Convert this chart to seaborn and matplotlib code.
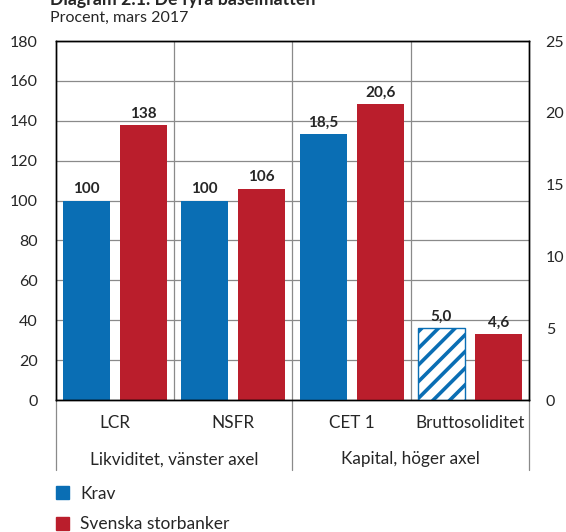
import seaborn as sns
import pandas as pd
import matplotlib.pyplot as plt
import matplotlib.patches as mpatches
import matplotlib.transforms as mtransforms

categories = ["LCR", "NSFR", "CET 1", "Bruttosoliditet"]
series = ["Krav", "Svenska storbanker"]
krav = [100, 100, 18.5, 5.0]
storbanker = [138, 106, 20.6, 4.6]
axis_side = ["vänster", "vänster", "höger", "höger"]
groups = ["Likviditet, vänster axel", "Kapital, höger axel"]

BLUE = '#0A6EB4'
RED = '#BA1E2C'

rows = []
for cat, k, s, side in zip(categories, krav, storbanker, axis_side):
    rows.append({'Kategori': cat, 'Serie': series[0], 'Procent': k, 'Axel': side})
    rows.append({'Kategori': cat, 'Serie': series[1], 'Procent': s, 'Axel': side})
df = pd.DataFrame(rows)
liq = df[df['Axel'] == 'vänster']
cap = df[df['Axel'] == 'höger']

sns.set_style("white")
plt.rcParams['font.family'] = ['Lato', 'DejaVu Sans']
plt.rcParams['hatch.linewidth'] = 2.6

fig, ax = plt.subplots(figsize=(5.66, 5.32), dpi=100)
fig.subplots_adjust(left=0.0989, right=0.9346, top=0.9229, bottom=0.2481)
ax2 = ax.twinx()

bar_kw = dict(x='Kategori', y='Procent', hue='Serie', order=categories, hue_order=series,
              palette=[BLUE, RED], width=0.964, gap=0.176, saturation=1, linewidth=0, legend=False)
sns.barplot(data=liq, ax=ax, **bar_kw)
sns.barplot(data=cap, ax=ax2, **bar_kw)

# hatched requirement bar for Bruttosoliditet
hb = ax2.containers[0][-1]
hb.set_facecolor('white')
hb.set_edgecolor(BLUE)
hb.set_linewidth(1)
hb.set_hatch('//')

for c in ax.containers:
    ax.bar_label(c, fmt=lambda v: f'{v:.0f}', padding=3, fontsize=11, fontweight='bold')
for c in ax2.containers:
    ax2.bar_label(c, fmt=lambda v: f'{v:.1f}'.replace('.', ','), padding=3, fontsize=11, fontweight='bold')

ax.set_xlim(-0.5, 3.5)
ax.set_ylim(0, 180)
ax.set_yticks(range(0, 181, 20))
ax2.set_ylim(0, 25)
ax2.set_yticks(range(0, 26, 5))
ax.set_xlabel('')
ax.set_ylabel('')
ax2.set_xlabel('')
ax2.set_ylabel('')

ax.yaxis.grid(True, color='#8a8a8a', linewidth=0.9)
ax.set_axisbelow(True)
ax2.grid(False)
for x in [0.5, 1.5, 2.5]:
    ax.axvline(x, color='#8a8a8a', linewidth=0.9, zorder=0)

for a in (ax, ax2):
    for sp in a.spines.values():
        sp.set_color('black')
        sp.set_linewidth(1)

ax.tick_params(axis='y', length=0, pad=13, labelsize=11.5)
ax2.tick_params(axis='y', length=0, pad=12, labelsize=11.5)
ax.tick_params(axis='x', length=0, pad=11, labelsize=12.3)

# group separators and labels below the axis
trans = mtransforms.blended_transform_factory(ax.transData, ax.transAxes)
for x in [-0.5, 1.5, 3.5]:
    ax.plot([x, x], [0, -0.195], transform=trans, color='#8a8a8a', linewidth=0.9, clip_on=False)
for i, g in enumerate(groups):
    ax.text(0.5 + 2 * i, -0.165, g, transform=trans, ha='center', va='center', fontsize=12.3)

fig.text(0.089, 1.0, 'Diagram 2.1. De fyra baselmåtten', fontsize=12.8, fontweight='bold', va='center')
fig.text(0.089, 0.967, 'Procent, mars 2017', fontsize=11.5, va='center')

handles = [mpatches.Patch(color=BLUE), mpatches.Patch(color=RED)]
fig.legend(handles, series, loc='upper left', bbox_to_anchor=(0.099, 0.087), frameon=False,
           fontsize=12.5, borderpad=0, borderaxespad=0, labelspacing=0.85, handlelength=0.75,
           handleheight=0.75, handletextpad=0.65)

fig.savefig('out.png', dpi=100, facecolor='white')
